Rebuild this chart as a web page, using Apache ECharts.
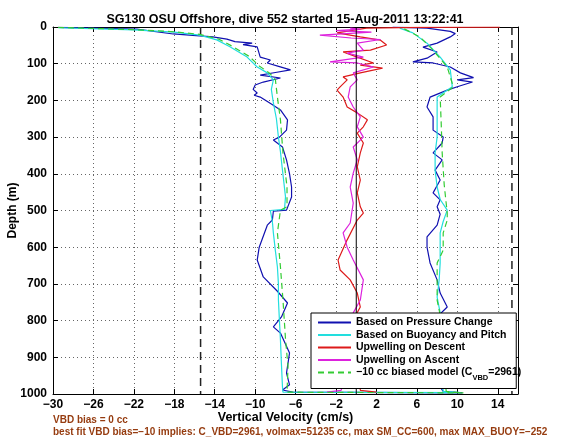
<!DOCTYPE html>
<html><head><meta charset="utf-8">
<script src="https://cdn.jsdelivr.net/npm/echarts@6/dist/echarts.min.js"></script>
<style>html,body{margin:0;padding:0;background:#fff}#c{width:570px;height:440px}</style>
</head><body><div id="c"></div>
<script>
const titleText = 'SG130 OSU Offshore, dive 552 started 15-Aug-2011 13:22:41';
const xName = 'Vertical Velocity (cm/s)';
const yName = 'Depth (m)';
const footer1 = 'VBD bias = 0 cc';
const footer2 = 'best fit VBD bias=\u221210 implies: C_VBD=2961, volmax=51235 cc, max SM_CC=600, max MAX_BUOY=\u2212252';
const xTicks = [-30, -26, -22, -18, -14, -10, -6, -2, 2, 6, 10, 14];
const seriesNames = ['Based on Pressure Change', 'Based on Buoyancy and Pitch', 'Upwelling on Descent', 'Upwelling on Ascent', '\u221210 cc biased model (CVBD=2961)'];

// Based on Pressure Change (descent, bottom crossing, ascent)
const pressureVel = [-29.5,-21.7,-18.1,-16.5,-14.2,-12.8,-12.0,-10.3,-11.2,-9.8,
  -9.5,-8.5,-8.8,-7.6,-6.5,-8.0,-9.5,-7.5,-9.2,-10.0,
  -10.2,-9.8,-10.1,-9.5,-8.4,-7.5,-6.8,-6.9,-7.6,-8.2,
  -7.3,-6.9,-6.6,-6.4,-6.4,-6.9,-8.2,-8.3,-8.8,-9.6,
  -9.8,-9.2,-7.8,-6.8,-7.4,-8.2,-7.5,-6.6,-6.9,-6.6,
  -7.3,-6.3,
  10.5,
  8.6,7.8,8.1,7.9,8.0,9.0,8.3,8.0,7.3,7.0,
  7.0,8.0,8.3,8.0,8.3,7.6,8.3,7.8,8.5,7.6,
  8.5,8.6,7.6,7.6,7.0,7.3,9.0,10.3,11.5,10.0,
  11.6,10.3,9.3,7.6,5.6,7.0,8.0,6.6,8.0,9.3,
  9.8,9.3,7.0,3.6];
const pressureDepth = [1,6,19,22,27,33,40,44,48,54,
  82,90,98,108,117,124,131,139,150,158,
  170,180,186,191,210,226,253,281,300,308,
  327,362,400,436,463,499,502,526,540,600,
  635,681,720,752,790,817,834,888,943,975,
  989,995,
  997,
  993,960,900,840,790,763,725,689,643,600,
  572,540,510,490,471,452,417,390,362,343,
  316,300,281,245,218,191,172,160,150,144,
  138,125,109,98,95,85,68,55,44,27,
  18,12,3,0.5];

// Based on Buoyancy and Pitch
const buoyVel = [-29.5,-22,-18,-15.5,-13.8,-12.5,-10.8,-9.8,-8.8,-8.2,
  -8.4,-8.2,-7.9,-7.7,-7.5,-7.3,-7.0,-7.1,-8.5,-8.3,
  -8.2,-8.0,-7.8,-7.7,-7.7,-7.6,-7.5,-7.4,-7.3,-7.25,
  10.3,
  8.6,8.4,8.3,8.0,8.2,8.3,8.3,8.6,9.0,8.3,
  8.0,7.8,7.8,8.0,8.0,8.0,9.5,9.3,8.3,7.0,
  5.6,4.3];
const buoyDepth = [2,8,14,22,35,54,82,109,125,144,
  170,207,250,300,340,390,463,497,500,530,
  561,610,654,700,744,800,853,920,980,995,
  996,
  993,900,779,736,690,643,561,530,499,470,
  436,390,343,300,253,191,163,117,82,44,
  16,3];

// Upwelling on Descent
const upDescVel = [14.2,6,1,-1.9,0.4,2.4,3.0,1.4,-1.3,0.1,
  1.7,0.4,2.6,0.4,-1.3,-0.9,-1.6,-1.9,-1.3,-0.9,
  0.1,1.1,0.7,0.1,0.7,0.4,0.1,0.4,0.1,0.4,
  0.7,0.1,-0.9,-1.8,-1.6,-0.6,0.1,0.4,-0.3,0.2,
  -0.5,0.3,0.4,2.0];
const upDescDepth = [0.5,1,3,16,27,36,49,63,68,82,
  98,104,112,125,136,144,163,172,191,218,
  234,253,272,289,316,343,381,417,452,490,
  507,526,580,635,662,689,725,763,798,850,
  900,950,990,995];

// Upwelling on Ascent
const upAscVel = [-2.9,-1.5,-0.5,0.2,-0.3,0.4,0.7,-0.3,-0.9,-1.3,
  -0.6,-0.3,-0.6,-0.3,0.1,-0.3,0.7,0.1,0.4,-0.3,
  -0.8,-0.6,0.1,-0.3,1.7,0.1,-2.6,0.7,-0.9,0.7,
  0.1,2.4,-0.5,-3.6,-1.0,1.5,-2.0,0.4,-0.6];
const upAscDepth = [995,990,900,830,779,744,689,635,600,561,
  534,480,436,398,362,327,300,272,245,218,
  191,163,144,125,109,98,95,82,71,63,
  44,34,30,22,18,14,10,6,3];

// -10 cc biased model
const modelVel = [-29.5,-22,-18,-15.5,-13.6,-12.3,-10.6,-9.6,-8.6,-8.0,
  -7.8,-7.5,-7.25,-6.85,-6.85,-7.5,-7.8,-7.5,-7.25,-7.0,
  -6.75,-6.85,
  10.6,
  8.9,8.5,8.3,8.0,8.0,8.6,8.6,9.0,9.0,8.7,
  8.5,8.4,8.3,9.6,9.0,7.6,6.3,4.6];
const modelDepth = [1,7,13,20,33,52,80,106,125,144,
  191,253,343,436,490,499,561,654,744,850,
  926,995,
  997,
  993,880,785,744,643,608,561,526,507,430,
  343,260,191,163,109,63,27,3];

const limitVel = [-15.4, 15.4];
const zeroVel = 0;
const depthRange = [0, 1000];

const FONT = 'Liberation Sans';
const pairs = (xs, ys) => xs.map((x, i) => [x, ys[i]]);
const fmt = v => (v < 0 ? '\u2212' + Math.abs(v) : String(v));

const dataSeries = [
  {name: seriesNames[0], color: '#1010b0', vel: pressureVel, dep: pressureDepth, type: 'solid'},
  {name: seriesNames[1], color: '#22dede', vel: buoyVel, dep: buoyDepth, type: 'solid'},
  {name: seriesNames[2], color: '#dd1a1a', vel: upDescVel, dep: upDescDepth, type: 'solid'},
  {name: seriesNames[3], color: '#dd22dd', vel: upAscVel, dep: upAscDepth, type: 'solid'},
  {name: seriesNames[4], color: '#33cc33', vel: modelVel, dep: modelDepth, type: [6, 4]}
];

const series = [];
limitVel.forEach(v => series.push({
  type: 'line', symbol: 'none', silent: true, z: 1,
  data: depthRange.map(d => [v, d]),
  lineStyle: {color: '#222', width: 1.5, type: [8, 5]}
}));
dataSeries.forEach(s => series.push({
  name: s.name, type: 'line', symbol: 'none', z: 2,
  data: pairs(s.vel, s.dep), color: s.color,
  lineStyle: {color: s.color, width: 1.2, type: s.type}
}));
series.push({
  type: 'line', symbol: 'none', silent: true, z: 3,
  data: depthRange.map(d => [zeroVel, d]),
  lineStyle: {color: '#000', width: 1}
});

const axisCommon = {
  axisLine: {show: true, onZero: false, lineStyle: {color: '#000', width: 1}},
  axisTick: {show: true, inside: true, length: 5, lineStyle: {color: '#000'}}
};

const option = {
  animation: false,
  textStyle: {fontFamily: FONT},
  title: {text: titleText, left: 'center', top: 8,
    textStyle: {fontSize: 12.5, fontWeight: 'bold', color: '#000', fontFamily: FONT}},
  grid: {left: 53, right: 52, top: 27, bottom: 46, containLabel: false, outerBoundsMode: 'none'},
  legend: {
    data: seriesNames, orient: 'vertical', left: 311, top: 313,
    itemWidth: 33, itemHeight: 12, itemGap: 1.5,
    padding: [4, -5, 7, 6],
    itemStyle: {opacity: 0},
    borderColor: '#000', borderWidth: 1, backgroundColor: '#fff', borderRadius: 0,
    textStyle: {fontSize: 10.5, fontWeight: 'bold', color: '#000', fontFamily: FONT,
      rich: {
        a: {fontSize: 10.5, fontWeight: 'bold', color: '#000', fontFamily: FONT, lineHeight: 12, verticalAlign: 'middle'},
        sub: {fontSize: 7.5, fontWeight: 'bold', color: '#000', fontFamily: FONT, lineHeight: 12, verticalAlign: 'bottom', padding: [0, 0, -3, 0]}
      }},
    formatter: name => name === seriesNames[4]
      ? '{a|\u221210 cc biased model (C}{sub|VBD}{a|=2961)}' : name
  },
  xAxis: [
    Object.assign({}, axisCommon, {
      type: 'value', min: -30, max: 16, position: 'bottom',
      axisTick: Object.assign({}, axisCommon.axisTick, {customValues: xTicks}),
      axisLabel: {customValues: xTicks, formatter: fmt, color: '#000', fontSize: 12, fontWeight: 'bold', margin: 5, fontFamily: FONT},
      splitLine: {show: true, lineStyle: {color: '#666', width: 1, type: [1, 3]}},
      name: xName, nameLocation: 'middle', nameGap: 17, nameMoveOverlap: false,
      nameTextStyle: {fontSize: 12.5, fontWeight: 'bold', color: '#000', fontFamily: FONT}
    }),
    Object.assign({}, axisCommon, {
      type: 'value', min: -30, max: 16, position: 'top',
      axisTick: Object.assign({}, axisCommon.axisTick, {customValues: xTicks}),
      axisLabel: {show: false, customValues: xTicks},
      splitLine: {show: false}
    })
  ],
  yAxis: [
    Object.assign({}, axisCommon, {
      type: 'value', min: 0, max: 1000, interval: 100, inverse: true, position: 'left',
      axisLabel: {color: '#000', fontSize: 12, fontWeight: 'bold', margin: 6, fontFamily: FONT, formatter: v => String(v)},
      splitLine: {show: true, lineStyle: {color: '#666', width: 1, type: [1, 3]}},
      name: yName, nameLocation: 'middle', nameGap: 34, nameRotate: 90, nameMoveOverlap: false,
      nameTextStyle: {fontSize: 12, fontWeight: 'bold', color: '#000', fontFamily: FONT}
    }),
    Object.assign({}, axisCommon, {
      type: 'value', min: 0, max: 1000, interval: 100, inverse: true, position: 'right',
      axisLabel: {show: false}, splitLine: {show: false}
    })
  ],
  graphic: [
    {type: 'text', left: 53, top: 415, style: {text: footer1, fill: '#963c10', font: 'bold 10px "Liberation Sans"'}},
    {type: 'text', left: 53, top: 427, style: {text: footer2, fill: '#963c10', font: 'bold 10px "Liberation Sans"'}}
  ],
  series: series
};

const chart = echarts.init(document.getElementById('c'), null, {renderer: 'canvas'});
chart.setOption(option);
</script>
</body></html>
